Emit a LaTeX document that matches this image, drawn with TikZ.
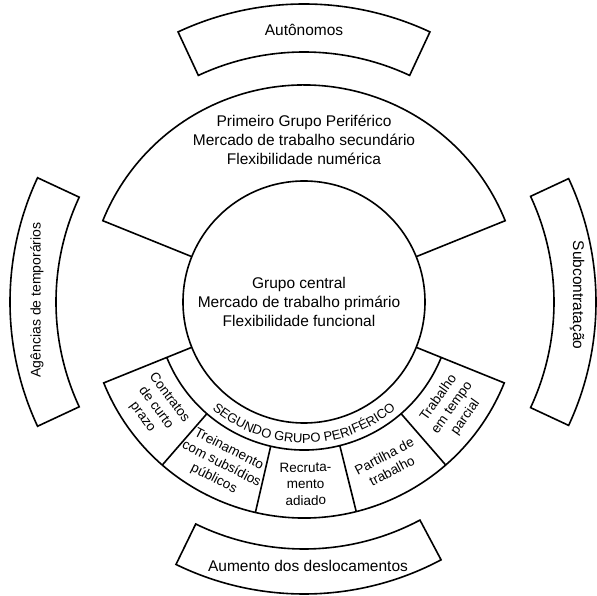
\documentclass[tikz,border=0pt]{standalone}
\usepackage{fontspec}
\setmainfont{Liberation Sans}
\usetikzlibrary{decorations.text}
\begin{document}
\begin{tikzpicture}[x=1pt,y=1pt,line width=1.6pt,line join=miter,
  lbl/.style={font=\fontsize{15.5}{19}\selectfont,align=center,inner sep=0pt},
  sidelbl/.style={font=\fontsize{14}{17}\selectfont,align=center,inner sep=0pt},
  boxtxt/.style={font=\fontsize{13.5}{16.5}\selectfont,align=center,inner sep=0pt}]
\useasboundingbox (-304,-294) rectangle (293,302);
\fill[white] (-304,-294) rectangle (293,302);
% central circle
\draw (0,0) circle[radius=121];
% first peripheral group (upper sector)
\draw (22:121) -- (22:217) arc[start angle=22,end angle=158,radius=217] -- (158:121);
% second peripheral group (lower sector)
\draw (-158:121) -- (-158:216) arc[start angle=-158,end angle=-22,radius=216] -- (-22:121);
\draw (-158:148) arc[start angle=-158,end angle=-22,radius=148];
\foreach \a in {-131,-103,-76,-49} \draw (\a:148) -- (\a:216);
% outer bands
\draw (65:250) arc[start angle=65,end angle=115,radius=250] -- (115:298)
      arc[start angle=115,end angle=65,radius=298] -- cycle;
\draw (155:248) arc[start angle=155,end angle=205,radius=248] -- (205:294)
      arc[start angle=205,end angle=155,radius=294] -- cycle;
\draw (-25:250) arc[start angle=-25,end angle=25,radius=250] -- (25:292)
      arc[start angle=25,end angle=-25,radius=292] -- cycle;
\draw (-116:247) arc[start angle=-116,end angle=-62,radius=247] -- (-62:292)
      arc[start angle=-62,end angle=-116,radius=292] -- cycle;
% texts
\node[lbl] (aut) at (0,272) {Autônomos};
\node[lbl] (pgp) at (0,162) {Primeiro Grupo Periférico\\Mercado de trabalho secundário\\Flexibilidade numérica};
\node[lbl] (gc) at (-5,0) {Grupo central\\Mercado de trabalho primário\\Flexibilidade funcional};
\node[sidelbl,rotate=90] (age) at (-267,2) {Agências de temporários};
\node[lbl,rotate=-90] (sub) at (273,7) {Subcontratação};
\node[lbl] (aum) at (4,-264) {Aumento dos deslocamentos};
\path[decorate,decoration={text along path,text align=center,
  text={|\fontsize{13}{15}\selectfont|SEGUNDO GRUPO PERIFÉRICO}}]
  (-155:141) arc[start angle=-155,end angle=-25,radius=141];
\node[boxtxt,rotate=-53.5] (b1) at (-144.5:182) {Contratos\\de curto\\prazo};
\node[boxtxt,rotate=-27] (b2) at (-117:182) {Treinamento\\com subsídios\\públicos};
\node[boxtxt,rotate=0.5] (b3) at (-89.5:182) {Recruta-\\mento\\adiado};
\node[boxtxt,rotate=27.5] (b4) at (-62.5:182) {Partilha de\\trabalho};
\node[boxtxt,rotate=54.5] (b5) at (-35.5:182) {Trabalho\\em tempo\\parcial};
\end{tikzpicture}
\end{document}
